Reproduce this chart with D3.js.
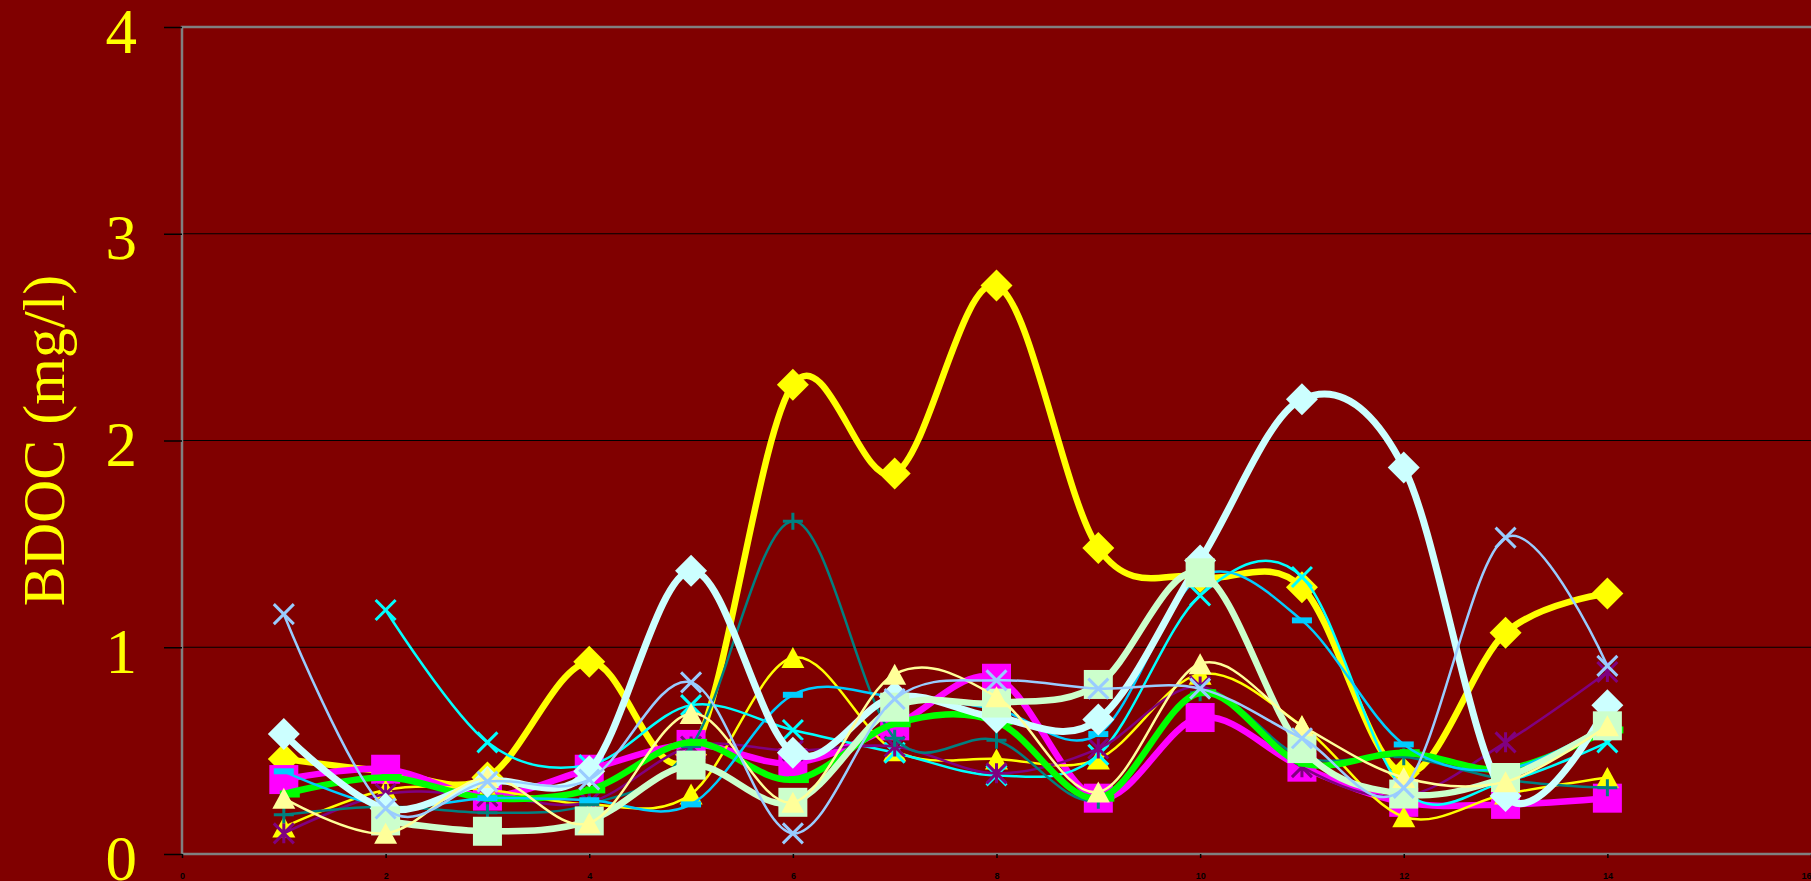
<!DOCTYPE html>
<html>
<head>
<meta charset="utf-8">
<script src="https://cdnjs.cloudflare.com/ajax/libs/d3/7.8.5/d3.min.js"></script>
<style>
  body { margin: 0; background: #800000; }
  svg { display: block; }
</style>
</head>
<body>
<svg id="chart"></svg>
<script>
// sampling points on the x axis
var xPoints = [1, 2, 3, 4, 5, 6, 7, 8, 9, 10, 11, 12, 13, 14];
var xTicks = [0, 2, 4, 6, 8, 10, 12, 14, 16];
var yTicks = [0, 1, 2, 3, 4];

// BDOC (mg/l) per series
var bdocYellowDiamond = [0.46, 0.40, 0.37, 0.93, 0.48, 2.27, 1.84, 2.75, 1.48, 1.34, 1.29, 0.39, 1.07, 1.26];
var bdocMagenta      = [0.36, 0.41, 0.28, 0.41, 0.53, 0.44, 0.62, 0.85, 0.27, 0.66, 0.42, 0.25, 0.24, 0.27];
var bdocYellowTri    = [0.13, 0.31, 0.31, 0.24, 0.29, 0.95, 0.50, 0.46, 0.46, 0.87, 0.62, 0.18, 0.29, 0.37];
var bdocCyan         = [null, 1.18, 0.54, 0.43, 0.72, 0.60, 0.49, 0.38, 0.48, 1.25, 1.34, 0.31, 0.35, 0.54];
var bdocPurple       = [0.10, 0.29, 0.28, 0.25, 0.52, 0.50, 0.52, 0.39, 0.51, 0.81, 0.42, 0.28, 0.54, 0.88];
var bdocTeal         = [0.19, 0.23, 0.20, 0.24, 0.52, 1.61, 0.56, 0.55, 0.26, 0.78, 0.47, 0.47, 0.36, 0.32];
var bdocGreen        = [0.29, 0.37, 0.27, 0.31, 0.54, 0.36, 0.63, 0.64, 0.27, 0.78, 0.44, 0.49, 0.41, 0.60];
var bdocSkyBlue      = [0.40, 0.23, 0.27, 0.26, 0.24, 0.77, 0.76, 0.70, 0.58, 1.34, 1.13, 0.53, 0.41, 0.63];
var bdocLightCyan    = [0.58, 0.22, 0.35, 0.40, 1.37, 0.49, 0.76, 0.66, 0.65, 1.42, 2.20, 1.87, 0.28, 0.72];
var bdocPaleGreen    = [null, 0.16, 0.11, 0.16, 0.43, 0.25, 0.71, 0.73, 0.82, 1.36, 0.51, 0.29, 0.37, 0.62];
var bdocLightYellow  = [0.27, 0.10, 0.37, 0.15, 0.68, 0.25, 0.87, 0.76, 0.30, 0.92, 0.62, 0.37, 0.35, 0.62];
var bdocPaleBlue     = [1.16, 0.22, 0.35, 0.36, 0.83, 0.10, 0.75, 0.84, 0.80, 0.80, 0.56, 0.32, 1.53, 0.91];

var width = 1811, height = 881;

var svg = d3.select("#chart")
    .attr("width", width)
    .attr("height", height)
    .style("background", "#800000");

var x = d3.scaleLinear().domain([0, 16]).range([182, 1811]);
var y = d3.scaleLinear().domain([0, 4]).range([854, 27]);

// series in drawing order (later ones on top)
var seriesList = [
    { values: bdocYellowDiamond, color: "#FFFF00", width: 6.5, marker: "diamond", size: 32 },
    { values: bdocMagenta,       color: "#FF00FF", width: 6.5, marker: "square",  size: 29 },
    { values: bdocYellowTri,     color: "#FFFF00", width: 2.5, marker: "triangle", size: 21 },
    { values: bdocCyan,          color: "#00FFFF", width: 2.5, marker: "x",       size: 20 },
    { values: bdocPurple,        color: "#800080", width: 2.5, marker: "star",    size: 20 },
    { values: bdocTeal,          color: "#008080", width: 2.5, marker: "plus",    size: 20 },
    { values: bdocGreen,         color: "#00FF00", width: 6.5, marker: "dashR",   size: 20 },
    { values: bdocSkyBlue,       color: "#00CCFF", width: 2.5, marker: "dash",    size: 20 },
    { values: bdocLightCyan,     color: "#CCFFFF", width: 7,   marker: "diamond", size: 32 },
    { values: bdocPaleGreen,     color: "#CCFFCC", width: 6.5, marker: "square",  size: 29 },
    { values: bdocLightYellow,   color: "#FFFF99", width: 2.5, marker: "triangle", size: 21 },
    { values: bdocPaleBlue,      color: "#99CCFF", width: 2.5, marker: "x",       size: 20 }
];

// grid lines
svg.append("g")
    .selectAll("line")
    .data(yTicks.filter(function(d){ return d > 0 && d < 4; }))
    .enter().append("line")
    .attr("x1", x(0)).attr("x2", x(16))
    .attr("y1", function(d){ return y(d); })
    .attr("y2", function(d){ return y(d); })
    .attr("stroke", "#000").attr("stroke-width", 1.2);

// plot border
svg.append("rect")
    .attr("x", x(0)).attr("y", y(4))
    .attr("width", x(16) - x(0) + 10)
    .attr("height", y(0) - y(4))
    .attr("fill", "none")
    .attr("stroke", "#808080")
    .attr("stroke-width", 2.5);

// y axis
var yAxis = svg.append("g")
    .attr("transform", "translate(" + x(0) + ",0)")
    .call(d3.axisLeft(y).tickValues(yTicks).tickSize(18).tickPadding(27).tickFormat(d3.format("d")));
yAxis.select(".domain").remove();
yAxis.selectAll(".tick line").attr("stroke", "#000").attr("stroke-width", 1.5);
yAxis.selectAll(".tick text")
    .attr("fill", "#FFFF00")
    .attr("dy", "0.4em")
    .style("font-family", "'Liberation Serif', 'Times New Roman', serif")
    .style("font-size", "63px");

// x axis (labels are tiny black glyphs in the original)
var xAxis = svg.append("g")
    .attr("transform", "translate(0," + y(0) + ")")
    .call(d3.axisBottom(x).tickValues(xTicks).tickSize(4).tickPadding(15));
xAxis.select(".domain").remove();
xAxis.selectAll(".tick line").attr("stroke", "#000").attr("stroke-width", 1.5);
xAxis.selectAll(".tick text")
    .attr("fill", "#000")
    .attr("text-anchor", function(d){ return d == 16 ? "end" : "middle"; })
    .style("font-family", "'Liberation Sans', Arial, sans-serif")
    .style("font-weight", "bold")
    .style("font-size", "9px");

// y axis title
svg.append("text")
    .attr("transform", "translate(64," + ((y(0) + y(4)) / 2) + ") rotate(-90)")
    .attr("text-anchor", "middle")
    .attr("fill", "#FFFF00")
    .style("font-family", "'Liberation Serif', 'Times New Roman', serif")
    .style("font-size", "60px")
    .text("BDOC (mg/l)");

var line = d3.line()
    .defined(function(d){ return d.v != null; })
    .x(function(d){ return x(d.x); })
    .y(function(d){ return y(d.v); })
    .curve(d3.curveCatmullRom.alpha(0));

function markerPath(type, s) {
    var h = s / 2;
    if (type == "diamond") return "M0," + (-h) + "L" + h + ",0L0," + h + "L" + (-h) + ",0Z";
    if (type == "square") return "M" + (-h) + "," + (-h) + "h" + s + "v" + s + "h" + (-s) + "Z";
    if (type == "triangle") return "M0," + (-h) + "L" + (h + 1) + "," + h + "L" + (-h - 1) + "," + h + "Z";
    if (type == "x") return "M" + (-h) + "," + (-h) + "L" + h + "," + h + "M" + h + "," + (-h) + "L" + (-h) + "," + h;
    if (type == "star") return "M" + (-h) + "," + (-h) + "L" + h + "," + h + "M" + h + "," + (-h) + "L" + (-h) + "," + h + "M0," + (-h) + "V" + h;
    if (type == "plus") return "M" + (-h) + ",0H" + h + "M0," + (-h * 0.85) + "V" + (h * 0.85);
    if (type == "dash") return "M" + (-h) + ",-3h" + s + "v6h" + (-s) + "Z";
    if (type == "dashR") return "M" + (-h + 6) + ",-3.5h" + s + "v7h" + (-s) + "Z";
    return "";
}

seriesList.forEach(function(s){
    var pts = xPoints.map(function(px, i){ return { x: px, v: s.values[i] }; });
    var g = svg.append("g");
    g.append("path")
        .datum(pts)
        .attr("d", line)
        .attr("fill", "none")
        .attr("stroke", s.color)
        .attr("stroke-width", s.width)
        .attr("stroke-linejoin", "round");
    var stroked = (s.marker == "x" || s.marker == "star" || s.marker == "plus");
    g.selectAll("path.mk")
        .data(pts.filter(function(d){ return d.v != null; }))
        .enter().append("path")
        .attr("class", "mk")
        .attr("transform", function(d){ return "translate(" + x(d.x) + "," + y(d.v) + ")"; })
        .attr("d", markerPath(s.marker, s.size))
        .attr("fill", stroked ? "none" : s.color)
        .attr("stroke", s.color)
        .attr("stroke-width", stroked ? 3 : 0);
});
</script>
</body>
</html>
